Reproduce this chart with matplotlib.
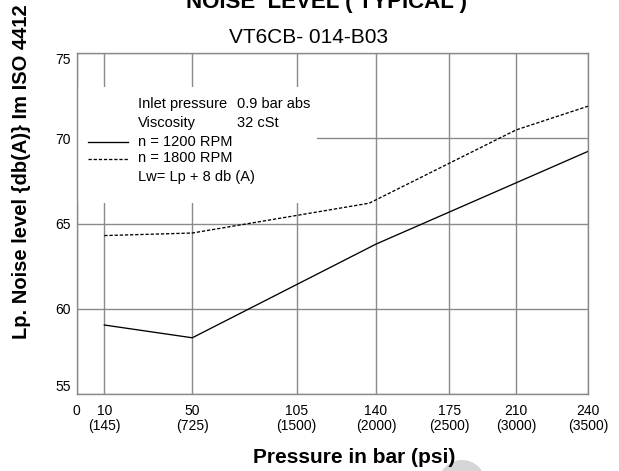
import matplotlib
matplotlib.use("Agg")
import matplotlib.pyplot as plt
import numpy as np
from matplotlib.lines import Line2D
from matplotlib.patches import Circle, Rectangle

# pressure axis ticks (bar) with psi labels
tick_bar = [0, 10, 50, 105, 140, 175, 210, 240]
tick_psi = ["", "(145)", "(725)", "(1500)", "(2000)", "(2500)", "(3000)", "(3500)"]
# the printed chart spaces the ticks unevenly; these are their layout positions
tick_layout = [0.0, 27.6, 115.6, 220.0, 299.3, 372.6, 439.3, 511.6]

# noise level readings, dB(A)
bar_1200 = [10, 50, 140, 240]
noise_1200 = [59.05, 58.3, 63.8, 69.25]
bar_1800 = [10, 50, 137, 210, 240]
noise_1800 = [64.3, 64.45, 66.2, 70.5, 71.9]

y_ticks = [55, 60, 65, 70, 75]

info_rows = [
    ("Inlet pressure", "0.9 bar abs"),
    ("Viscosity", "32 cSt"),
]

GRID = "#8a8a8a"

plt.rcParams.update({
    "font.family": ["Liberation Sans", "DejaVu Sans"],
    "font.size": 10,
})


def forward(x):
    return np.interp(x, tick_bar, tick_layout)


def inverse(x):
    return np.interp(x, tick_layout, tick_bar)


fig = plt.figure(figsize=(6.19, 4.71), dpi=100)
ax = fig.add_axes([76.7 / 619, 1 - 394 / 471, 511.6 / 619, 340.7 / 471])

ax.set_xscale("function", functions=(forward, inverse))
ax.set_xlim(0, 240)
ax.set_ylim(55, 75)

ax.set_xticks(tick_bar)
ax.set_xticklabels([f"{b}\n{p}" if p else f"{b}" for b, p in zip(tick_bar, tick_psi)],
                   va="top", linespacing=1.15)
ax.set_yticks(y_ticks)
ax.tick_params(axis="both", length=0, labelsize=10, colors="black")
ax.tick_params(axis="x", pad=7)
ax.tick_params(axis="y", pad=4)
# end labels sit inside the frame on the original
ylabels = ax.get_yticklabels()
ylabels[0].set_va("bottom")
ylabels[-1].set_va("top")

ax.set_axisbelow(True)
ax.grid(True, color=GRID, lw=1.0)
for sp in ax.spines.values():
    sp.set_color(GRID)
    sp.set_linewidth(1.0)
    sp.set_zorder(3)

# white block behind the notes, breaking the grid
ax.add_patch(Rectangle((0, 0.5597), 0.469, 0.3423, transform=ax.transAxes,
                       facecolor="white", edgecolor="none", zorder=1))

ax.plot(bar_1200, noise_1200, color="black", lw=0.95, zorder=2)
ax.plot(bar_1800, noise_1800, color="black", lw=0.95, ls=(0, (2.5, 1.4)), zorder=2)

# notes block
row_y = [0.8512, 0.7945, 0.7396, 0.6918, 0.6378]
for (label, value), y in zip(info_rows, row_y[:2]):
    ax.text(0.1204, y, label, transform=ax.transAxes, va="center", fontsize=10.5)
    ax.text(0.3127, y, value, transform=ax.transAxes, va="center", fontsize=10.5)
ax.text(0.1204, row_y[2], "n = 1200 RPM", transform=ax.transAxes, va="center", fontsize=10.5)
ax.text(0.1204, row_y[3], "n = 1800 RPM", transform=ax.transAxes, va="center", fontsize=10.5)
ax.text(0.1204, row_y[4], "Lw= Lp + 8 db (A)", transform=ax.transAxes, va="center", fontsize=10.5)
ax.add_line(Line2D([0.0221, 0.1003], [row_y[2], row_y[2]], transform=ax.transAxes,
                   color="black", lw=0.95, zorder=4))
ax.add_line(Line2D([0.0221, 0.1003], [row_y[3] - 0.002, row_y[3] - 0.002], transform=ax.transAxes,
                   color="black", lw=0.95, ls=(0, (2.5, 1.4)), zorder=4))

# titles and axis labels
fig.text(327 / 619, 1 - 8.3 / 471, "NOISE  LEVEL ( TYPICAL )", ha="center", va="baseline",
         fontsize=16, fontweight="bold")
fig.text(308.5 / 619, 1 - 43.3 / 471, "VT6CB- 014-B03", ha="center", va="baseline", fontsize=15)
fig.text(354.5 / 619, 1 - 463 / 471, "Pressure in bar (psi)", ha="center", va="baseline",
         fontsize=15, fontweight="bold", zorder=3)
fig.text(22 / 619, 1 - 171.5 / 471, "Lp. Noise level {db(A)} Im ISO 4412", ha="center",
         va="center", rotation=90, fontsize=14.5, fontweight="bold")

# faint grey watermark edge at the bottom
fig.patches.append(Circle((4.62, -0.127), 0.237, transform=fig.dpi_scale_trans,
                          facecolor="#d6d6d6", edgecolor="none", zorder=1))

fig.savefig("out.png", dpi=100)
